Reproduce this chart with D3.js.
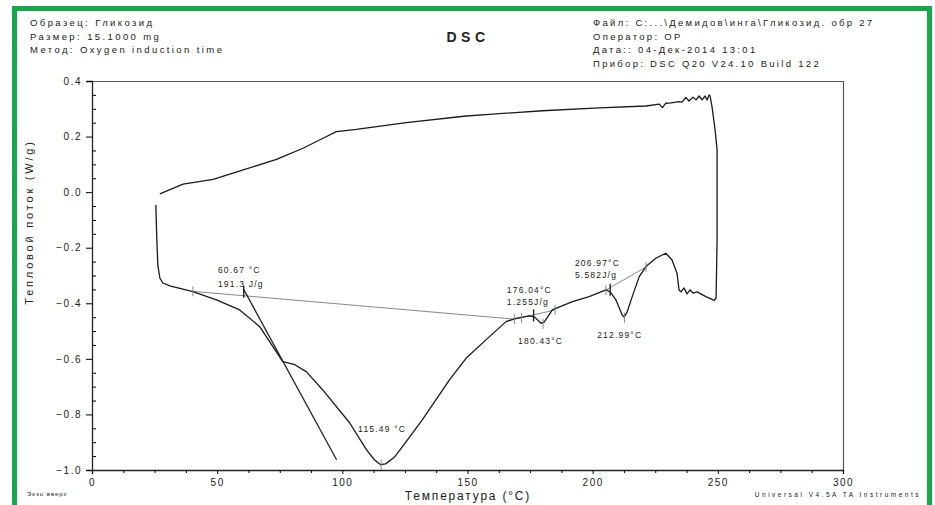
<!DOCTYPE html>
<html>
<head>
<meta charset="utf-8">
<script src="https://cdn.jsdelivr.net/npm/d3@7"></script>
<style>
  body { margin: 0; background: #fff; }
  text { font-family: "Liberation Sans", Arial, sans-serif; fill: #222; }
</style>
</head>
<body>
<svg id="chart" width="935" height="505"></svg>
<script>
// DSC curve, lower branch (heating) then the jump at 250 C
var lowerT = [25.5, 25.9, 26.3, 27.1, 28.3, 31.1, 40.3, 49.7, 59.0, 67.0, 71.8, 76.2, 81.0, 85.6, 92.1, 102.9, 109.6, 112.8, 115.3, 117.3, 120.9, 124.1, 132.0, 142.8, 149.5, 158.8, 165.4, 169.4, 174.7, 176.7, 179.4, 180.7, 183.9, 191.9, 198.6, 205.3, 207.0, 209.3, 211.8, 212.6, 213.8, 215.8, 218.6, 221.3, 225.2, 229.2, 231.7, 233.7, 234.5, 235.3, 236.5, 237.7, 238.9, 240.1, 241.7, 245.2, 247.3, 248.5, 249.3, 249.7, 249.7, 248.9, 247.7, 246.9];
var lowerQ = [-0.046, -0.172, -0.262, -0.309, -0.327, -0.337, -0.358, -0.388, -0.424, -0.484, -0.550, -0.610, -0.621, -0.646, -0.711, -0.830, -0.927, -0.963, -0.981, -0.978, -0.953, -0.915, -0.819, -0.676, -0.597, -0.520, -0.466, -0.454, -0.445, -0.449, -0.472, -0.467, -0.424, -0.394, -0.376, -0.352, -0.359, -0.388, -0.442, -0.450, -0.431, -0.376, -0.304, -0.268, -0.238, -0.220, -0.244, -0.292, -0.352, -0.359, -0.345, -0.366, -0.352, -0.363, -0.359, -0.376, -0.384, -0.390, -0.381, -0.172, 0.152, 0.224, 0.306, 0.346];
// upper branch, from 250 C back to room temperature
var upperT = [246.5, 245.7, 244.9, 243.7, 242.5, 241.3, 240.1, 238.5, 237.2, 235.7, 234.5, 231.3, 229.2, 227.9, 226.6, 221.3, 202.6, 180.0, 158.8, 149.5, 125.5, 105.6, 97.6, 92.3, 84.3, 73.7, 60.4, 48.4, 36.4, 27.1];
var upperQ = [0.350, 0.332, 0.346, 0.332, 0.346, 0.332, 0.342, 0.328, 0.341, 0.324, 0.326, 0.321, 0.320, 0.304, 0.317, 0.310, 0.303, 0.293, 0.280, 0.274, 0.250, 0.226, 0.218, 0.194, 0.158, 0.118, 0.080, 0.046, 0.029, -0.006];

// integration baselines (grey) and onset tangent (dark)
var baseT1 = [40.3, 168.7, 169, 185, 205.3, 221.3];
var baseQ1 = [-0.357, -0.457, -0.457, -0.424, -0.352, -0.270];
var tangentT = [60.6, 97.7];
var tangentQ = [-0.350, -0.963];

// small cross marks on the curve
var markT = [40.3, 60.6, 115.5, 168.7, 171.6, 176.4, 180.2, 185.0, 205.3, 207.0, 212.7, 221.3];
var markQ = [-0.357, -0.362, -0.982, -0.457, -0.452, -0.447, -0.474, -0.424, -0.352, -0.355, -0.452, -0.270];
var markDark = [false, true, false, false, false, true, false, false, false, true, false, false];

var labelText = ["60.67 °C", "191.3 J/g", "115.49 °C", "176.04°C", "1.255J/g", "180.43°C", "206.97°C", "5.582J/g", "212.99°C"];
var labelT = [50.3, 50.3, 106.3, 165.7, 165.7, 170.2, 192.9, 192.9, 201.8];
var labelQ = [-0.291, -0.341, -0.863, -0.363, -0.406, -0.546, -0.265, -0.309, -0.524];

var xTicks = [0, 50, 100, 150, 200, 250, 300];
var yTicks = [-1.0, -0.8, -0.6, -0.4, -0.2, 0.0, 0.2, 0.4];

var headerLeft = ["Образец: Гликозид", "Размер: 15.1000 mg", "Метод: Oxygen induction time"];
var headerRight = ["Файл: C:...\\Демидов\\инга\\Гликозид. обр 27", "Оператор: OP", "Дата:: 04-Дек-2014 13:01", "Прибор: DSC Q20 V24.10 Build 122"];

var svg = d3.select("#chart");
var x = d3.scaleLinear().domain([0, 300]).range([92, 843]);
var y = d3.scaleLinear().domain([-1.0, 0.4]).range([470, 81]);

// green frame (open at the bottom)
svg.append("path")
  .attr("d", "M14.5,505 L14.5,8.5 L929.5,8.5 L929.5,505")
  .attr("fill", "none").attr("stroke", "#14a84b").attr("stroke-width", 5);

// header
svg.selectAll(".hl").data(headerLeft).enter().append("text")
  .attr("x", 30).attr("y", function (d, i) { return 26 + i * 13.5; })
  .style("font-size", "9.5px").style("letter-spacing", "2.4px").text(function (d) { return d; });
svg.selectAll(".hr").data(headerRight).enter().append("text")
  .attr("x", 593).attr("y", function (d, i) { return 26 + i * 13.5; })
  .style("font-size", "9.5px").style("letter-spacing", "2.3px").text(function (d) { return d; });
svg.append("text").attr("x", 468).attr("y", 42).attr("text-anchor", "middle")
  .style("font-size", "14px").style("font-weight", "bold").style("letter-spacing", "4.5px").text("DSC");

// frame top/right
svg.append("path").attr("d", "M92,81.5 L843.5,81.5 L843.5,470")
  .attr("fill", "none").attr("stroke", "#555").attr("stroke-width", 1.2);

// axes
var xAxis = d3.axisBottom(x).tickValues(xTicks).tickSize(4).tickFormat(d3.format("d"));
var gx = svg.append("g").attr("transform", "translate(0,470)").call(xAxis);
var xMinor = d3.range(0, 300.1, 12.5).filter(function (d) { return d % 50 !== 0; });
svg.append("g").attr("transform", "translate(0,470)")
  .call(d3.axisBottom(x).tickValues(xMinor).tickSize(3).tickFormat(""))
  .select(".domain").remove();

var yAxis = d3.axisLeft(y).tickValues(yTicks).tickSize(6).tickFormat(d3.format(".1f"));
var gy = svg.append("g").attr("transform", "translate(92,0)").call(yAxis);
var yMinor = d3.range(-1.0, 0.401, 0.05).filter(function (d) { return Math.round(d * 100) % 20 !== 0; });
svg.append("g").attr("transform", "translate(92,0)")
  .call(d3.axisRight(y).tickValues(yMinor).tickSize(4).tickFormat(""))
  .select(".domain").remove();

[gx, gy].forEach(function (g) {
  g.select(".domain").attr("stroke", "#222").attr("stroke-width", 1.3);
  g.selectAll("text").style("font-size", "10px").style("letter-spacing", "1.5px")
    .style("font-family", "Liberation Sans, Arial, sans-serif").attr("fill", "#222");
});
gx.selectAll("text").attr("dy", "0.9em");
gy.selectAll("text").attr("x", -10);

svg.append("text").attr("transform", "translate(33,222) rotate(-90)").attr("text-anchor", "middle")
  .style("font-size", "11px").style("letter-spacing", "2.8px").text("Тепловой поток (W/g)");
svg.append("text").attr("x", 468).attr("y", 500).attr("text-anchor", "middle")
  .style("font-size", "12px").style("letter-spacing", "1.8px").text("Температура (°C)");
svg.append("text").attr("x", 27).attr("y", 496)
  .style("font-size", "6px").style("letter-spacing", "1px").text("Экзо вверх");
svg.append("text").attr("x", 921).attr("y", 497).attr("text-anchor", "end")
  .style("font-size", "6.5px").style("letter-spacing", "2.5px").text("Universal V4.5A TA Instruments");

// baselines
var line = d3.line().x(function (d) { return x(d[0]); }).y(function (d) { return y(d[1]); });
var segs = [[0, 1], [2, 3], [4, 5]];
segs.forEach(function (s) {
  svg.append("path").datum([[baseT1[s[0]], baseQ1[s[0]]], [baseT1[s[1]], baseQ1[s[1]]]])
    .attr("d", line).attr("fill", "none").attr("stroke", "#888").attr("stroke-width", 1);
});
svg.append("path").datum(d3.zip(tangentT, tangentQ))
  .attr("d", line).attr("fill", "none").attr("stroke", "#222").attr("stroke-width", 1.3);

// curve
svg.append("path").datum(d3.zip(lowerT, lowerQ).concat(d3.zip(upperT, upperQ)))
  .attr("d", line).attr("fill", "none").attr("stroke", "#1a1a1a").attr("stroke-width", 1.3)
  .attr("stroke-linejoin", "round");

// marks
svg.selectAll(".mk").data(d3.range(markT.length)).enter().append("line")
  .attr("x1", function (i) { return x(markT[i]); }).attr("x2", function (i) { return x(markT[i]); })
  .attr("y1", function (i) { return y(markQ[i]) - (markDark[i] ? 7 : 5); })
  .attr("y2", function (i) { return y(markQ[i]) + 5; })
  .attr("stroke", function (i) { return markDark[i] ? "#222" : "#888"; })
  .attr("stroke-width", function (i) { return markDark[i] ? 1.4 : 1; });

svg.selectAll(".lb").data(d3.range(labelText.length)).enter().append("text")
  .attr("x", function (i) { return x(labelT[i]); }).attr("y", function (i) { return y(labelQ[i]); })
  .style("font-size", "8.5px").style("letter-spacing", "1.2px")
  .text(function (i) { return labelText[i]; });
</script>
</body>
</html>
